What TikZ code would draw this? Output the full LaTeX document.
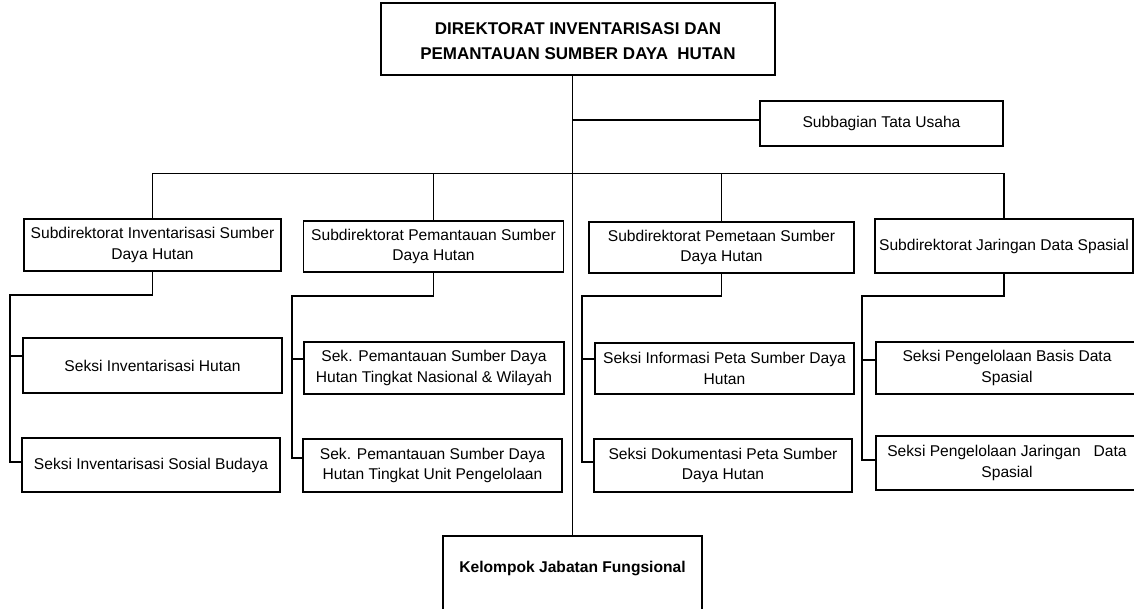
\documentclass[tikz,border=0pt]{standalone}
\usepackage{fontspec}
\setmainfont{Liberation Sans}
\begin{document}
\begin{tikzpicture}[x=1pt,y=-1pt,
  box/.style={draw, line width=1.1pt, inner sep=0pt, align=center,
    font=\fontsize{15.6}{20.5}\selectfont},
  link/.style={line width=1.1pt}]
\useasboundingbox (0,0) rectangle (1134,609);
% nodes
\node[box, minimum width=394, minimum height=72] (dir) at (578,39) {};
\node[font=\fontsize{17}{24.5}\selectfont\bfseries, align=center, inner sep=0pt]
  (dirt) at (578,41) {DIREKTORAT INVENTARISASI DAN\\PEMANTAUAN SUMBER DAYA\ \ HUTAN};
\node[box, minimum width=243, minimum height=45] (tu) at (881.5,123.5) {Subbagian Tata Usaha};
\node[box, minimum width=257, minimum height=52] (sub1) at (152.5,245) {Subdirektorat Inventarisasi Sumber\\Daya Hutan};
\node[box, minimum width=260, minimum height=51] (sub2) at (433.5,246.5) {Subdirektorat Pemantauan Sumber\\Daya Hutan};
\node[box, minimum width=265, minimum height=51] (sub3) at (721.5,247.5) {Subdirektorat Pemetaan Sumber\\Daya Hutan};
\node[box, minimum width=258, minimum height=54] (sub4) at (1004,246) {Subdirektorat Jaringan Data Spasial};
\node[box, minimum width=259, minimum height=55] (s11) at (152.5,365.5) {Seksi Inventarisasi Hutan};
\node[box, minimum width=258, minimum height=54] (s12) at (151,465) {Seksi Inventarisasi Sosial Budaya};
\node[box, minimum width=260, minimum height=52] (s21) at (434,368) {Sek. Pemantauan Sumber Daya\\Hutan Tingkat Nasional \& Wilayah};
\node[box, minimum width=259, minimum height=53] (s22) at (432.5,465.5) {Sek. Pemantauan Sumber Daya\\Hutan Tingkat Unit Pengelolaan};
\node[box, minimum width=259, minimum height=51] (s31) at (724.5,368.5) {Seksi Informasi Peta Sumber Daya\\Hutan};
\node[box, minimum width=258, minimum height=53] (s32) at (723,465.5) {Seksi Dokumentasi Peta Sumber\\Daya Hutan};
\node[box, minimum width=262, minimum height=52] (s41) at (1007,368) {Seksi Pengelolaan Basis Data\\Spasial};
\node[box, minimum width=262, minimum height=54] (s42) at (1007,463) {Seksi Pengelolaan Jaringan\ \ \ Data\\Spasial};
\node[box, minimum width=259, minimum height=84] (kjf) at (572.5,578) {};
\node[font=\fontsize{15.6}{20}\selectfont\bfseries, inner sep=0pt] (kjft) at (572.5,568) {Kelompok Jabatan Fungsional};
% connectors
\draw[link] (kjf.north) -- (kjf.north |- dir.south);
\coordinate (tub) at ([yshift=3.5pt]tu.west);
\draw[link] (tub) -- (tub -| kjf.north);
\draw[link] (sub1.north) -- ++(0,-45) -| (sub4.north);
\coordinate (bus) at (0,174);
\draw[link] (sub2.north) -- (sub2.north |- bus);
\draw[link] (sub3.north) -- (sub3.north |- bus);
% column rails
\coordinate (r1) at (10,295);
\coordinate (r2) at (292,296);
\coordinate (r3) at (582,296);
\coordinate (r4) at (862,296);
\coordinate (b11) at ([yshift=9.5pt]s11.west);
\coordinate (b12) at ([yshift=3pt]s12.west);
\coordinate (b21) at ([yshift=9pt]s21.west);
\coordinate (b22) at ([yshift=7.5pt]s22.west);
\coordinate (b31) at ([yshift=9.5pt]s31.west);
\coordinate (b32) at ([yshift=3.5pt]s32.west);
\coordinate (b41) at ([yshift=8pt]s41.west);
\coordinate (b42) at ([yshift=3pt]s42.west);
\draw[link] (sub1.south) |- (r1) -- (r1 |- b12) -- (b12);
\draw[link] (b11) -- (r1 |- b11);
\draw[link] (sub2.south) |- (r2) -- (r2 |- b22) -- (b22);
\draw[link] (b21) -- (r2 |- b21);
\draw[link] (sub3.south) |- (r3) -- (r3 |- b32) -- (b32);
\draw[link] (b31) -- (r3 |- b31);
\draw[link] (sub4.south) |- (r4) -- (r4 |- b42) -- (b42);
\draw[link] (b41) -- (r4 |- b41);
\end{tikzpicture}
\end{document}
